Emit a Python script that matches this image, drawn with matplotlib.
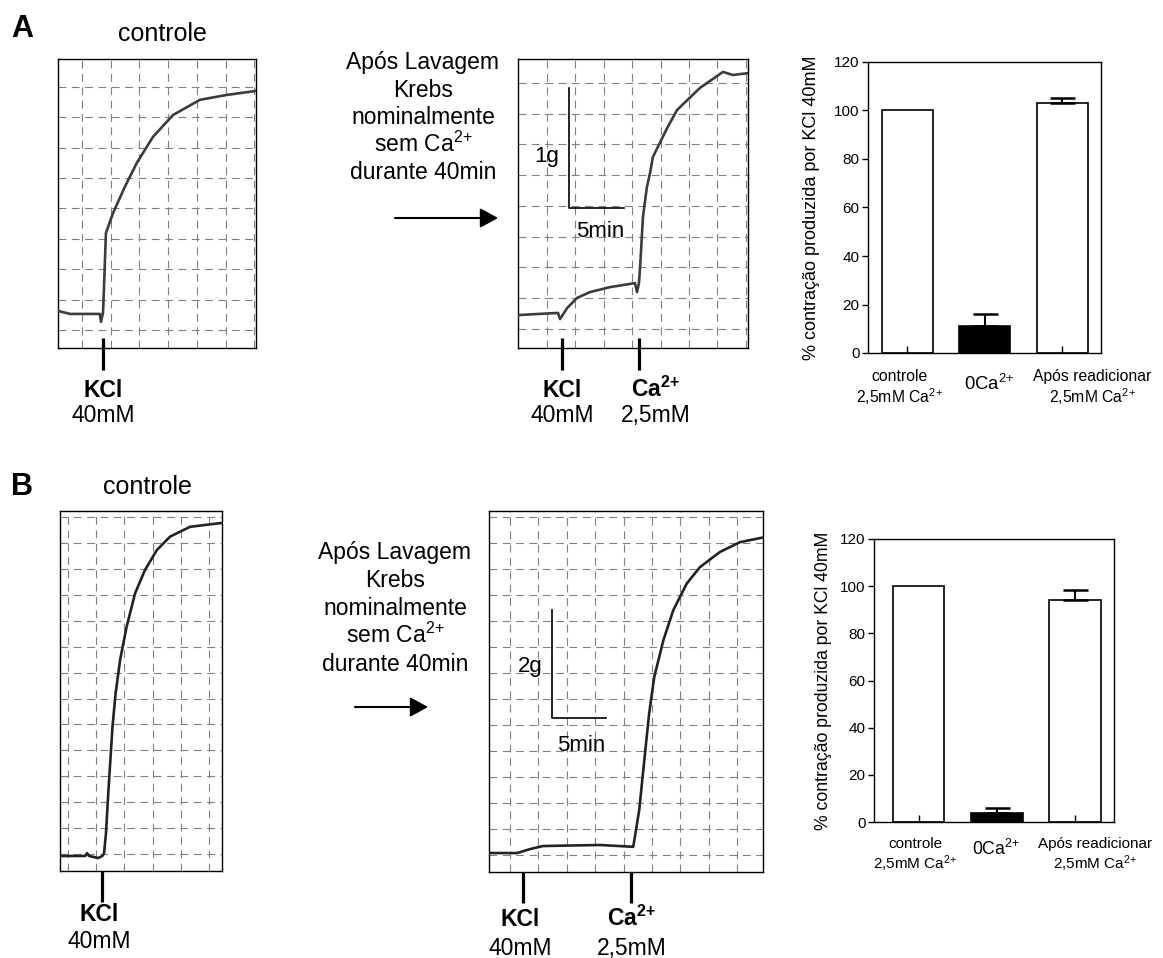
import numpy as np
import matplotlib
matplotlib.use('Agg')
import matplotlib.pyplot as plt

plt.rcParams['font.family'] = ['Liberation Sans', 'DejaVu Sans']
plt.rcParams['mathtext.fontset'] = 'custom'
plt.rcParams['mathtext.rm'] = 'Liberation Sans'
plt.rcParams['mathtext.bf'] = 'Liberation Sans:bold'
plt.rcParams['mathtext.default'] = 'regular'

W, H = 1163, 958

# registros de tensao (unidades = divisoes do papel)
a1_t = [0, 0.42, 1.46, 1.50, 1.57, 1.60, 1.67, 1.92, 2.33, 2.75, 3.31, 4.01, 4.95, 5.89, 6.90]
a1_y = [1.22, 1.12, 1.12, 0.86, 1.18, 1.91, 3.78, 4.44, 5.30, 6.09, 6.94, 7.66, 8.16, 8.32, 8.45]

a2_t = [0, 0.77, 1.41, 1.48, 1.73, 2.08, 2.54, 3.24, 4.12, 4.19, 4.26, 4.30, 4.40, 4.54,
        4.65, 4.75, 5.25, 5.60, 6.41, 7.22, 7.57, 8.10]
a2_y = [1.07, 1.11, 1.14, 0.94, 1.30, 1.63, 1.82, 1.98, 2.11, 1.82, 2.11, 2.63, 4.26, 5.24,
        5.69, 6.21, 7.15, 7.74, 8.46, 8.98, 8.88, 8.94]

b1_t = [0, 0.89, 0.96, 1.03, 1.35, 1.50, 1.56, 1.63, 1.71, 1.86, 1.97, 2.13, 2.36, 2.66,
        3.01, 3.43, 3.90, 4.61, 5.74]
b1_y = [0.58, 0.58, 0.69, 0.58, 0.50, 0.58, 0.68, 1.47, 3.00, 5.57, 6.86, 8.15, 9.43, 10.72,
        11.62, 12.39, 12.91, 13.29, 13.44]

b2_t = [0, 0.99, 1.44, 1.90, 3.91, 5.08, 5.29, 5.47, 5.64, 5.82, 6.14, 6.49, 6.96, 7.43,
        8.13, 8.84, 9.60, 9.65]
b2_y = [0.73, 0.73, 0.88, 1.00, 1.04, 0.97, 2.38, 4.31, 6.10, 7.51, 8.92, 10.08, 11.10, 11.74,
        12.32, 12.70, 12.87, 12.88]

# adicoes de droga (posicao em divisoes)
a1_kcl = 1.57
a2_kcl, a2_ca = 1.55, 4.26
b1_kcl = 1.49
b2_kcl, b2_ca = 1.20, 5.00

CA = 'Ca$^{2\\!+}$'

# barras
cat_l1 = ['controle', '0' + CA, 'Após readicionar']
cat_l2 = ['2,5mM ' + CA, '', '2,5mM ' + CA]
a_media = [100, 11.3, 103.0]
a_epm = [0, 4.8, 2.3]
b_media = [100, 4.0, 94.1]
b_epm = [0, 2.1, 4.3]
y_ticks = [0, 20, 40, 60, 80, 100, 120]
ylabel = '% contração produzida por KCl 40mM'

texto_lav = ['Após Lavagem', 'Krebs', 'nominalmente', 'sem ' + CA, 'durante 40min']

fig = plt.figure(figsize=(W / 100, H / 100), dpi=100)


def px_axes(x0, y0, x1, y1):
    return fig.add_axes([x0 / W, 1 - y1 / H, (x1 - x0) / W, (y1 - y0) / H])


def registro(rect, t, y, xmax, ymax, gx0, gy0, cor):
    ax = px_axes(*rect)
    ax.plot(t, y, color=cor, lw=1.9, solid_joinstyle='round', zorder=3)
    ax.set_xlim(0, xmax)
    ax.set_ylim(0, ymax)
    ax.set_xticks(np.arange(gx0, xmax, 1.0))
    ax.set_yticks(np.arange(gy0, ymax, 1.0))
    ax.tick_params(length=0, labelbottom=False, labelleft=False)
    ax.grid(True, color='#808080', lw=0.8, ls=(0, (7, 5)))
    ax.set_axisbelow(True)
    for s in ax.spines.values():
        s.set_linewidth(1.0)
    return ax


def evento(ax, x, y0, y1, l1, l2, dx, off1, off2, fs=16.5):
    ax.plot([x, x], [y0, y1], color='k', lw=2.3, clip_on=False, solid_capstyle='butt')
    ax.annotate(l1, xy=(x, 0), xytext=(dx, off1), textcoords='offset pixels',
                ha='center', va='baseline', fontsize=fs, fontweight='bold', annotation_clip=False)
    ax.annotate(l2, xy=(x, 0), xytext=(dx, off2), textcoords='offset pixels',
                ha='center', va='baseline', fontsize=fs, annotation_clip=False)


def barras(rect, media, epm, xlo, xlab, yl_x, ylfs, fs, fs0, yb1, yb2, yb0):
    ax = px_axes(*rect)
    x = np.arange(len(media))
    ax.bar(x, media, width=0.66, color=['white', 'black', 'white'],
           edgecolor='black', lw=1.2, zorder=2)
    idx = [i for i in range(len(epm)) if epm[i] > 0]
    ax.errorbar([x[i] for i in idx], [media[i] for i in idx],
                yerr=[[0] * len(idx), [epm[i] for i in idx]], fmt='none',
                ecolor='black', elinewidth=1.5, capsize=9, capthick=1.8, zorder=3)
    ax.set_xlim(xlo, 2.5)
    ax.set_ylim(0, 120)
    ax.set_yticks(y_ticks)
    ax.set_xticks(x)
    ax.set_axisbelow(False)
    ax.tick_params(axis='y', direction='out', length=4, width=1, labelsize=11, pad=2)
    ax.tick_params(axis='x', direction='in', length=5, width=1, labelbottom=False)
    for s in ax.spines.values():
        s.set_linewidth(1.0)
    ax.set_ylabel(ylabel, fontsize=ylfs)
    ax.yaxis.set_label_coords(yl_x, 0.5)
    tr = ax.get_xaxis_transform()
    for i in x:
        if cat_l2[i]:
            ax.text(xlab[i], yb1, cat_l1[i], transform=tr, ha='center', va='baseline', fontsize=fs)
            ax.text(xlab[i], yb2, cat_l2[i], transform=tr, ha='center', va='baseline', fontsize=fs)
        else:
            ax.text(xlab[i], yb0, cat_l1[i], transform=tr, ha='center', va='baseline', fontsize=fs0)
    return ax


# ---- painel A ----
ax_a1 = registro((58, 59, 256, 348), a1_t, a1_y, 6.90, 9.5, 0.84, 0.59, '#3c3c3c')
evento(ax_a1, a1_kcl, 0.33, -0.72, 'KCl', '40mM', 0, -49, -74)

ax_a2 = registro((518, 59, 748, 348), a2_t, a2_y, 8.10, 9.4, 1.02, 0.62, '#3c3c3c')
evento(ax_a2, a2_kcl, 0.33, -0.72, 'KCl', '40mM', 0, -49, -74)
evento(ax_a2, a2_ca, 0.33, -0.72, CA, '2,5mM', 17, -49, -74)
ax_a2.plot([1.80, 1.80, 3.73], [8.46, 4.55, 4.55], color='k', lw=1.2, zorder=4)

barras((868, 62, 1101, 353), a_media, a_epm, -0.51, [-0.10, 1.06, 2.39],
       -0.206, 13, 11.3, 13.3, -0.096, -0.172, -0.127)

# ---- painel B ----
ax_b1 = registro((60, 511, 222, 871), b1_t, b1_y, 5.74, 13.9, 0.28, 0.66, '#222222')
evento(ax_b1, b1_kcl, 0, -1.2, 'KCl', '40mM', -3, -50, -77)

ax_b2 = registro((489, 511, 763, 872), b2_t, b2_y, 9.65, 13.9, 0.74, 0.65, '#222222')
evento(ax_b2, b2_kcl, 0, -1.2, 'KCl', '40mM', -3, -54, -83)
evento(ax_b2, b2_ca, 0, -1.2, CA, '2,5mM', 1, -54, -83)
ax_b2.plot([2.22, 2.22, 4.12], [10.1, 5.92, 5.92], color='k', lw=1.2, zorder=4)

barras((874, 539, 1114, 822), b_media, b_epm, -0.57, [-0.04, 0.99, 2.26],
       -0.175, 12.7, 11.0, 12.7, -0.092, -0.166, -0.117)

# ---- textos soltos ----
ov = fig.add_axes([0, 0, 1, 1])
ov.set_xlim(0, W)
ov.set_ylim(H, 0)
ov.axis('off')
ov.patch.set_visible(False)

ov.text(22, 37, 'A', ha='center', va='baseline', fontsize=22, fontweight='bold')
ov.text(22, 495, 'B', ha='center', va='baseline', fontsize=22, fontweight='bold')
ov.text(162, 41, 'controle', ha='center', va='baseline', fontsize=18)
ov.text(147, 494, 'controle', ha='center', va='baseline', fontsize=18)

for i, linha in enumerate(texto_lav):
    ov.text(423, 69 + i * 27.5, linha, ha='center', va='baseline', fontsize=16.5)
    ov.text(395, 559 + i * 28, linha, ha='center', va='baseline', fontsize=16.5)

seta = dict(arrowstyle='-|>,head_length=0.4,head_width=0.22', lw=1.5, color='k',
            mutation_scale=27, shrinkA=0, shrinkB=0)
ov.annotate('', xy=(498, 218), xytext=(395, 218), arrowprops=seta)
ov.annotate('', xy=(428, 707), xytext=(355, 707), arrowprops=seta)

ov.text(547, 162, '1g', ha='center', va='baseline', fontsize=16)
ov.text(600, 237, '5min', ha='center', va='baseline', fontsize=16)
ov.text(530, 672, '2g', ha='center', va='baseline', fontsize=16)
ov.text(581, 751, '5min', ha='center', va='baseline', fontsize=16)

fig.savefig('out.png', dpi=100)
